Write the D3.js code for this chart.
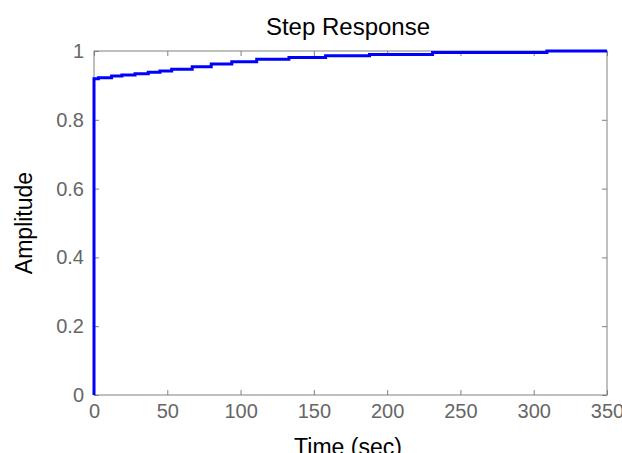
<!DOCTYPE html>
<html><head><meta charset="utf-8">
<script src="https://cdn.jsdelivr.net/npm/d3@7"></script>
<style>body{margin:0;background:#fff}svg{display:block}text{font-family:"Liberation Sans",Arial,sans-serif}</style>
</head><body><svg id="c" width="622" height="453"></svg>
<script>
const stepTimes  = [0, 0, 3, 12, 19, 28, 37, 45, 53, 67, 80, 94, 111, 133, 158, 188, 231, 309, 350];
const stepValues = [0, 0.919, 0.922, 0.927, 0.930, 0.934, 0.938, 0.942, 0.947, 0.954, 0.962, 0.969, 0.976, 0.981, 0.986, 0.990, 0.996, 1.0, 1.0];
const xTicks = [0, 50, 100, 150, 200, 250, 300, 350];
const yTicks = [0, 0.2, 0.4, 0.6, 0.8, 1];
const titleText = "Step Response", xLabel = "Time (sec)", yLabel = "Amplitude";

const svg = d3.select("#c");
const L = 94, R = 607, T = 51, B = 395;
const x = d3.scaleLinear().domain([0, 350]).range([L, R]);
const y = d3.scaleLinear().domain([0, 1]).range([B, T]);
const axisCol = "#808080", labCol = "#666";

svg.append("rect").attr("x", L).attr("y", T).attr("width", R - L).attr("height", B - T)
  .attr("fill", "none").attr("stroke", axisCol).attr("stroke-width", 1);

const fmt = d => d3.format("")(d);
const gB = svg.append("g").attr("transform", `translate(0,${B})`)
  .call(d3.axisBottom(x).tickValues(xTicks).tickSize(-5).tickPadding(9).tickFormat(fmt));
const gT = svg.append("g").attr("transform", `translate(0,${T})`)
  .call(d3.axisTop(x).tickValues(xTicks).tickSize(-5).tickFormat(""));
const gL = svg.append("g").attr("transform", `translate(${L},0)`)
  .call(d3.axisLeft(y).tickValues(yTicks).tickSize(-5).tickPadding(10).tickFormat(fmt));
const gR = svg.append("g").attr("transform", `translate(${R},0)`)
  .call(d3.axisRight(y).tickValues(yTicks).tickSize(-5).tickFormat(""));
[gB, gT, gL, gR].forEach(g => {
  g.select(".domain").remove();
  g.selectAll(".tick line").attr("stroke", axisCol);
  g.selectAll(".tick text").attr("fill", labCol).style("font-size", "20px")
    .style("font-family", "'Liberation Sans',Arial,sans-serif");
});

const pts = stepTimes.map((t, i) => [t, stepValues[i]]);
svg.append("path").datum(pts)
  .attr("d", d3.line().x(d => x(d[0])).y(d => y(d[1])).curve(d3.curveStepAfter))
  .attr("fill", "none").attr("stroke", "#0000ff").attr("stroke-width", 3);

svg.append("text").attr("x", 348).attr("y", 35).attr("text-anchor", "middle")
  .style("font-size", "24px").attr("fill", "#000").text(titleText);
svg.append("text").attr("x", 348).attr("y", 455).attr("text-anchor", "middle")
  .style("font-size", "23px").attr("fill", "#000").text(xLabel);
svg.append("text").attr("transform", `translate(32,${(T + B) / 2}) rotate(-90)`).attr("text-anchor", "middle")
  .style("font-size", "23px").attr("fill", "#000").text(yLabel);
</script></body></html>
